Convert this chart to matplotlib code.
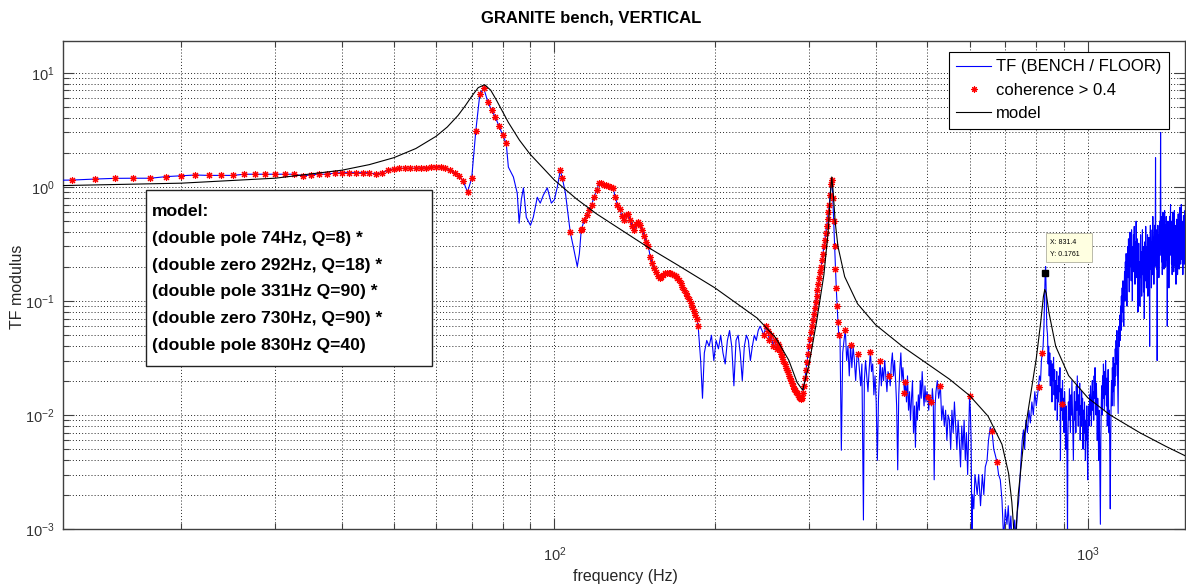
import matplotlib

matplotlib.use("Agg")
import matplotlib.pyplot as plt
from matplotlib.lines import Line2D
from matplotlib.patches import Rectangle
from matplotlib.ticker import LogLocator, LogFormatterMathtext, NullFormatter

plt.rcParams["font.family"] = ["Liberation Sans", "DejaVu Sans"]

# measured transfer function |BENCH / FLOOR|, up to the 831 Hz peak
tf_freq = [
    11.25, 12.5, 13.75, 15, 16.25, 17.5, 18.75, 20, 21.25, 22.5, 23.75, 25, 26.25, 27.5,
    28.75, 30, 31.25, 32.5, 33.75, 35, 36.25, 37.5, 38.75, 40, 41.25, 42.5, 43.75, 45,
    46.25, 47.5, 48.75, 50, 51.25, 52.5, 53.75, 55, 56.25, 57.5, 58.75, 60, 61.25, 62.5,
    63.75, 65, 66.25, 67.5, 68.75, 70, 71.25, 72.5, 73.75, 75, 76.25, 77.5, 78.75, 80, 81.25,
    82.0, 83.8, 85.2, 85.9, 86.7, 87.5, 88.6, 90.2, 91.3, 92.9, 94.1, 95.4, 97.0, 98.7,
    100, 101.3, 102.6, 103.5, 104.9, 107.1, 108.5, 110.4, 111.4, 112.3,
    112.5, 113.75, 115, 116.25, 117.5, 118.75, 120, 121.25, 122.5, 123.75, 125, 126.25,
    127.5, 128.75, 130, 131.25, 132.5, 133.75, 135, 136.25, 137.5, 138.75, 140, 141.25,
    142.5, 143.75, 145, 146.25, 147.5, 148.75, 150, 151.25, 152.5, 153.75, 155, 156.25,
    157.5, 158.75, 160, 161.25, 162.5, 163.75, 165, 166.25, 167.5, 168.75, 170, 171.25,
    172.5, 173.75, 175, 176.25, 177.5, 178.75, 180, 181.25, 182.5, 183.75, 185,
    186, 188, 189.5, 191, 193, 195, 197, 199, 201, 203, 205, 207, 209, 211, 213, 215,
    217, 219, 221, 223, 225, 227, 229, 231, 233, 235, 237, 239, 241, 243, 245, 247, 249,
    251, 253, 255, 257, 259, 261,
    262.5, 263.75, 265, 266.25, 267.5, 268.75, 270, 271.25, 272.5, 273.75, 275, 276.25,
    277.5, 278.75, 280, 281.25, 282.5, 283.75, 285, 286.25, 287.5, 288.75, 290, 291.25,
    292.5, 293.75, 295, 296.25, 297.5, 298.75, 300, 301.25, 302.5, 303.75, 305, 306.25,
    307.5, 308.75, 310, 311.25, 312.5, 313.75, 315, 316.25, 317.5, 318.75, 320, 321.25,
    322.5, 323.75, 325, 326.25, 327.5, 328.75, 330, 331.25, 332.5, 333.75, 335, 336.25,
    337.5, 338.75, 340, 341.25,
    343, 345, 347, 349, 351, 353, 355, 357, 359, 361, 363, 365, 367, 369, 371, 373, 375,
    377, 379.5, 381, 383, 385, 387, 389, 391, 393, 395, 397, 399, 401, 403, 405, 408, 410,
    412, 414, 416, 418, 420, 422, 424, 426, 428, 430, 432, 434, 436, 438, 440, 442, 444,
    446, 448, 450, 453, 455, 457, 459, 461, 463, 465, 467, 469, 471, 473, 475, 477, 479,
    481, 483, 485, 487, 489, 491, 493, 495, 497, 499, 501, 503, 505, 507, 509, 511, 513,
    515, 517, 519, 522, 525, 529, 532, 535, 538, 541, 544, 547, 550, 553, 556, 559, 562,
    565, 568, 571, 574, 577, 580, 583, 586, 589, 592, 595, 598, 600, 602, 604, 606, 608,
    611, 614, 617, 620, 624, 629, 634, 638, 642, 647, 651, 656, 661, 666, 670, 675, 680,
    685, 690, 695, 700, 705, 709, 713, 717, 721, 725, 729, 733, 737, 741, 745, 749, 753,
    757, 761, 765, 770, 775, 780, 785, 790, 795, 800, 808, 811, 815, 818, 821, 824, 827,
    829, 831.4, 833, 835, 837,
]
tf_mod = [
    1.14, 1.147, 1.17, 1.187, 1.19, 1.19, 1.23, 1.25, 1.27, 1.26, 1.26, 1.26, 1.29, 1.29,
    1.29, 1.29, 1.29, 1.29, 1.25, 1.27, 1.29, 1.29, 1.32, 1.33, 1.33, 1.33, 1.33, 1.33,
    1.29, 1.33, 1.40, 1.44, 1.45, 1.46, 1.45, 1.46, 1.46, 1.47, 1.48, 1.50, 1.50, 1.47,
    1.40, 1.33, 1.25, 1.12, 0.90, 1.19, 3.1, 6.5, 7.3, 5.6, 4.7, 4.1, 3.4, 2.85, 2.4,
    1.49, 1.22, 0.88, 0.48, 0.77, 0.98, 0.54, 0.46, 0.54, 0.81, 0.72, 0.85, 0.98, 0.72,
    0.77, 1.0, 1.4, 1.19, 0.88, 0.40, 0.30, 0.20, 0.26, 0.42,
    0.43, 0.51, 0.57, 0.63, 0.70, 0.82, 0.94, 1.07, 1.08, 1.04, 1.03, 1.02,
    1.0, 0.98, 0.82, 0.70, 0.64, 0.56, 0.51, 0.57, 0.58, 0.51, 0.45, 0.42,
    0.47, 0.49, 0.46, 0.42, 0.37, 0.33, 0.30, 0.245, 0.215, 0.195, 0.18, 0.165,
    0.158, 0.162, 0.17, 0.175, 0.176, 0.176, 0.175, 0.172, 0.168, 0.165, 0.16, 0.152,
    0.143, 0.133, 0.125, 0.117, 0.11, 0.103, 0.095, 0.088, 0.082, 0.075, 0.07,
    0.06, 0.03, 0.014, 0.035, 0.045, 0.04, 0.05, 0.03, 0.045, 0.038, 0.05, 0.035, 0.028,
    0.045, 0.055, 0.04, 0.018, 0.045, 0.05, 0.035, 0.02, 0.04, 0.05, 0.045, 0.03, 0.04,
    0.05, 0.045, 0.055, 0.06, 0.055, 0.05, 0.06, 0.055, 0.045, 0.05, 0.04, 0.045, 0.038,
    0.042, 0.04, 0.037, 0.034, 0.032, 0.03, 0.028, 0.026, 0.025, 0.024, 0.022, 0.021,
    0.02, 0.019, 0.018, 0.017, 0.0165, 0.016, 0.0155, 0.015, 0.0145, 0.014, 0.0138, 0.014,
    0.0155, 0.018, 0.021, 0.025, 0.029, 0.034, 0.04, 0.046, 0.053, 0.06, 0.068, 0.077,
    0.087, 0.098, 0.11, 0.125, 0.14, 0.158, 0.18, 0.2, 0.23, 0.26, 0.3, 0.34,
    0.39, 0.45, 0.52, 0.6, 0.7, 0.85, 1.05, 1.15, 0.8, 0.5, 0.3, 0.19,
    0.13, 0.09, 0.065, 0.05,
    0.05, 0.0049, 0.035, 0.045, 0.056, 0.03, 0.04, 0.022, 0.041, 0.026, 0.04, 0.03, 0.02,
    0.032, 0.034, 0.025, 0.018, 0.028, 0.0012, 0.02, 0.03, 0.022, 0.016, 0.025, 0.036,
    0.024, 0.028, 0.015, 0.022, 0.013, 0.004, 0.014, 0.03, 0.018, 0.026, 0.02, 0.03,
    0.022, 0.016, 0.024, 0.022, 0.018, 0.028, 0.035, 0.022, 0.03, 0.02, 0.012, 0.0033,
    0.015, 0.025, 0.035, 0.02, 0.026, 0.0155, 0.0195, 0.013, 0.022, 0.011, 0.016, 0.009,
    0.014, 0.02, 0.007, 0.012, 0.0052, 0.013, 0.009, 0.015, 0.011, 0.02, 0.014, 0.024,
    0.016, 0.012, 0.018, 0.013, 0.016, 0.0145, 0.011, 0.015, 0.013, 0.012, 0.017, 0.013,
    0.0027, 0.012, 0.016, 0.02, 0.014, 0.018, 0.009, 0.012, 0.008, 0.011, 0.006, 0.01,
    0.009, 0.005, 0.011, 0.007, 0.013, 0.008, 0.005, 0.009, 0.006, 0.0035, 0.008, 0.005,
    0.009, 0.004, 0.007, 0.003, 0.008, 0.0146, 0.011, 0.006, 0.0009, 0.002, 0.0015, 0.003,
    0.0025, 0.002, 0.003, 0.0016, 0.003, 0.002, 0.0035, 0.004, 0.006, 0.0078, 0.0072,
    0.005, 0.0045, 0.0039, 0.003, 0.0027, 0.0018, 0.0008, 0.0015, 0.0011, 0.0016, 0.0009,
    0.0013, 0.0007, 0.0009, 0.0012, 0.0008, 0.0014, 0.0017, 0.0025, 0.004, 0.006, 0.0074,
    0.005, 0.009, 0.007, 0.011, 0.0085, 0.013, 0.01, 0.016, 0.012, 0.0177, 0.022, 0.02,
    0.03, 0.035, 0.04, 0.06, 0.1, 0.1761, 0.2, 0.12, 0.06,
]

# measured transfer function above the 831 Hz peak (noisy part)
tf_hf_freq = [
    840, 842, 844, 846, 848, 850, 852, 854, 856, 858,
    860, 862, 864, 866, 868, 870, 872, 874, 876, 878,
    880, 882, 884, 886, 888, 890, 892, 894, 896, 898,
    900, 902, 904, 906, 908, 910, 912, 914, 915.5, 917,
    919, 921, 923, 925, 927, 929, 931, 933, 935, 937,
    939, 941, 943, 945, 947, 949, 951, 953, 955, 957,
    959, 961, 963, 965, 967, 969, 971, 973, 975, 977,
    979, 981, 983, 985, 987, 989, 991, 993, 995, 997,
    999, 1001, 1003, 1005, 1007, 1009, 1011, 1013, 1015, 1017,
    1019, 1021, 1023, 1025, 1027, 1029, 1031, 1033, 1035, 1037,
    1039, 1041, 1043, 1045, 1047, 1049, 1051, 1053, 1055, 1057,
    1059, 1061, 1063, 1065, 1067, 1069, 1071, 1073, 1075, 1077,
    1079, 1081, 1083, 1085, 1087, 1089, 1091, 1093, 1095, 1097,
    1099, 1101, 1103, 1105, 1107, 1109, 1111, 1113, 1115, 1117,
    1119, 1121, 1123, 1125, 1127, 1129, 1131, 1133, 1135, 1137,
    1139, 1141, 1143, 1145, 1147, 1149, 1151, 1153, 1155, 1157,
    1159, 1161, 1163, 1165, 1167, 1169, 1171, 1173, 1175, 1177,
    1179, 1181, 1183, 1185, 1187, 1189, 1191, 1193, 1195, 1197,
    1199, 1201, 1203, 1205, 1207, 1209, 1211, 1213, 1215, 1217,
    1219, 1221, 1223, 1225, 1227, 1229, 1231, 1233, 1235, 1237,
    1239, 1241, 1243, 1245, 1247, 1249, 1251, 1253, 1255, 1257,
    1259, 1261, 1263, 1265, 1267, 1269, 1271, 1273, 1275, 1277,
    1279, 1281, 1283, 1285, 1287, 1289, 1291, 1293, 1295, 1297,
    1299, 1301, 1303, 1305, 1307, 1309, 1311, 1313, 1315, 1317,
    1319, 1321, 1323, 1325, 1327, 1329, 1331, 1333, 1335, 1337,
    1338.5, 1340, 1342, 1344, 1346, 1348, 1350, 1352, 1354, 1356,
    1358, 1360, 1362, 1364, 1366, 1368, 1370, 1372, 1374, 1376,
    1378, 1380, 1382, 1384, 1386, 1388, 1390, 1392, 1394, 1396,
    1398, 1400, 1402, 1404, 1406, 1408, 1410, 1412, 1414, 1416,
    1418, 1420, 1422, 1424, 1426, 1428, 1430, 1432, 1434, 1436,
    1438, 1440, 1442, 1444, 1446, 1448, 1450, 1452, 1454, 1456,
    1458, 1460, 1462, 1464, 1466, 1468, 1470, 1472, 1474, 1476,
    1478, 1480, 1482, 1484, 1486, 1488, 1490, 1492, 1494, 1496,
    1498, 1500, 1502, 1504, 1506, 1508, 1510, 1512, 1514, 1516,
    1518, 1520, 1522, 1525,
]
tf_hf_mod = [
    0.05, 0.028, 0.04, 0.022, 0.035, 0.018, 0.03, 0.024, 0.013, 0.028,
    0.02, 0.032, 0.015, 0.025, 0.011, 0.02, 0.014, 0.024, 0.009, 0.018,
    0.013, 0.022, 0.016, 0.026, 0.004, 0.017, 0.011, 0.0124, 0.02, 0.009,
    0.014, 0.007, 0.016, 0.011, 0.005, 0.012, 0.008, 0.003, 0.0009, 0.006,
    0.013, 0.009, 0.017, 0.011, 0.007, 0.015, 0.01, 0.02, 0.012, 0.007,
    0.004, 0.01, 0.016, 0.009, 0.013, 0.007, 0.018, 0.011, 0.022, 0.013,
    0.008, 0.015, 0.01, 0.019, 0.006, 0.012, 0.008, 0.016, 0.009, 0.014,
    0.005, 0.011, 0.007, 0.013, 0.008, 0.004, 0.009, 0.006, 0.012, 0.005,
    0.0027, 0.007, 0.012, 0.008, 0.015, 0.01, 0.018, 0.012, 0.008, 0.014,
    0.02, 0.011, 0.016, 0.009, 0.022, 0.014, 0.026, 0.015, 0.01, 0.019,
    0.012, 0.006, 0.014, 0.009, 0.004, 0.011, 0.007, 0.003, 0.0011, 0.006,
    0.012, 0.018, 0.01, 0.022, 0.014, 0.028, 0.017, 0.011, 0.024, 0.015,
    0.03, 0.018, 0.012, 0.021, 0.008, 0.016, 0.025, 0.012, 0.007, 0.011,
    0.004, 0.0015, 0.006, 0.013, 0.02, 0.012, 0.026, 0.016, 0.032, 0.02,
    0.012, 0.028, 0.018, 0.038, 0.022, 0.045, 0.028, 0.055, 0.032, 0.02,
    0.0103, 0.03, 0.06, 0.04, 0.075, 0.045, 0.09, 0.055, 0.11, 0.065,
    0.13, 0.08, 0.15, 0.09, 0.06, 0.12, 0.18, 0.1, 0.22, 0.13,
    0.26, 0.15, 0.09, 0.2, 0.3, 0.16, 0.35, 0.19, 0.12, 0.28,
    0.4, 0.2, 0.33, 0.15, 0.42, 0.24, 0.1, 0.3, 0.18, 0.38,
    0.22, 0.45, 0.25, 0.14, 0.33, 0.2, 0.5, 0.26, 0.16, 0.35,
    0.22, 0.08, 0.2, 0.32, 0.13, 0.22, 0.09, 0.19, 0.38, 0.16,
    0.27, 0.11, 0.21, 0.42, 0.17, 0.3, 0.12, 0.24, 0.07, 0.19,
    0.33, 0.15, 0.45, 0.21, 0.13, 0.3, 0.18, 0.38, 0.11, 0.25,
    0.16, 0.36, 0.2, 0.04, 0.27, 0.46, 0.19, 0.33, 0.13, 0.26,
    0.42, 0.17, 0.55, 0.23, 0.36, 0.14, 0.29, 0.46, 0.2, 0.38,
    1.8, 0.25, 0.42, 0.19, 0.34, 0.03, 0.27, 0.46, 0.21, 0.38,
    0.16, 0.31, 0.5, 0.25, 0.42, 3.0, 0.33, 0.55, 0.22, 0.42,
    0.17, 0.33, 0.6, 0.25, 0.45, 0.19, 0.37, 0.62, 0.27, 0.46,
    0.2, 0.36, 0.55, 0.23, 0.42, 0.06, 0.31, 0.5, 0.21, 0.38,
    0.13, 0.29, 0.55, 0.25, 0.46, 0.7, 0.31, 0.5, 0.21, 0.42,
    0.17, 0.34, 0.6, 0.25, 0.45, 0.18, 0.36, 0.62, 0.29, 0.46,
    0.2, 0.38, 0.14, 0.31, 0.52, 0.23, 0.42, 0.17, 0.34, 0.58,
    0.26, 0.46, 0.19, 0.38, 0.66, 0.29, 0.48, 0.21, 0.4, 0.7,
    0.31, 0.5, 0.23, 0.42, 0.17, 0.35, 0.56, 0.25, 0.45, 0.21,
    0.38, 0.62, 0.29, 0.46,
]
assert len(tf_freq) == len(tf_mod)
assert len(tf_hf_freq) == len(tf_hf_mod)

# frequency bands where coherence > 0.4 (red stars on the TF points)
coh_bands = [
    (12, 81.5), (102, 104), (107, 107.2), (112, 186), (247, 342), (350, 352),
    (358, 360), (370, 372), (390, 392), (407, 409), (423, 425), (452, 456),
    (500, 502), (506, 508), (528, 530), (599, 601), (660, 662), (674, 676),
    (807, 809), (820, 822), (893, 895),
]

# model: poles / zeros listed in the text box
model_freq = [
    12, 20, 30, 40, 45, 50, 55, 60, 63, 66, 68, 70, 72, 74, 76, 78, 82, 86, 90, 100,
    110, 120, 150, 170, 200, 240, 260, 275, 285, 292, 300, 310, 320, 326, 329, 331, 333,
    336, 340, 350, 370, 400, 450, 500, 550, 600, 650, 690, 710, 720, 730, 740, 760, 780,
    800, 815, 825, 830, 835, 845, 870, 920, 1000, 1100, 1250, 1400, 1550,
]
model_mod = [
    1.026, 1.077, 1.191, 1.40, 1.566, 1.80, 2.167, 2.77, 3.347, 4.23, 5.10, 6.22, 7.41,
    7.86, 7.03, 5.69, 3.67, 2.57, 1.94, 1.147, 0.784, 0.579, 0.294, 0.207, 0.130, 0.0706,
    0.0474, 0.0302, 0.0193, 0.0165, 0.0276, 0.0654, 0.170, 0.409, 0.853, 1.22, 0.913,
    0.489, 0.300, 0.163, 0.0943, 0.0617, 0.0396, 0.0281, 0.0206, 0.0148, 0.00974,
    0.00552, 0.00307, 0.00172, 0.00069, 0.00198, 0.00672, 0.0146, 0.0312, 0.0634, 0.109,
    0.126, 0.117, 0.079, 0.040, 0.0221, 0.0141, 0.0100, 0.0070, 0.0053, 0.0042,
]

model_lines = [
    "model:",
    "(double pole 74Hz, Q=8) *",
    "(double zero 292Hz, Q=18) *",
    "(double pole 331Hz Q=90) *",
    "(double zero 730Hz, Q=90) *",
    "(double pole 830Hz Q=40)",
]
tip_x, tip_y = 831.4, 0.1761

W, H = 1186, 587


def fx(px):
    return px / W


def fy(py):
    return 1 - py / H


fig = plt.figure(figsize=(W / 100, H / 100), dpi=100)
ax = fig.add_axes([fx(63), fy(529), fx(1185) - fx(63), fy(41) - fy(529)])
ax.set_xscale("log")
ax.set_yscale("log")

all_f = tf_freq + tf_hf_freq
all_v = tf_mod + tf_hf_mod
coh = [(f, v) for f, v in zip(all_f, all_v) if any(lo <= f <= hi for lo, hi in coh_bands)]
coh_f = [c[0] for c in coh]
coh_v = [c[1] for c in coh]

ax.plot(all_f, all_v, color="#0000ff", lw=0.8, zorder=3)
ax.plot(coh_f, coh_v, ls="none", marker=(8, 2, 0), ms=5, mew=0.8, color="#ff0000", zorder=4)
ax.plot(model_freq, model_mod, color="black", lw=0.8, zorder=5)
ax.plot([tip_x], [tip_y], marker="s", ms=4.2, color="black", zorder=8)

ax.set_xlim(12, 1520)
ax.set_ylim(1e-3, 19)

for axis in (ax.xaxis, ax.yaxis):
    axis.set_major_locator(LogLocator(base=10))
    axis.set_minor_locator(LogLocator(base=10, subs=range(2, 10)))
    axis.set_major_formatter(LogFormatterMathtext())
    axis.set_minor_formatter(NullFormatter())

ax.tick_params(which="both", direction="in", top=True, right=True, color="#404040",
               labelcolor="#333333", labelsize=10.5)
ax.tick_params(which="major", length=8, width=0.8)
ax.tick_params(which="minor", length=4, width=0.8)
ax.tick_params(axis="x", pad=12)
ax.tick_params(axis="y", pad=6)
for s in ax.spines.values():
    s.set_color("#404040")
    s.set_linewidth(1.0)

ax.grid(True, which="both", ls=(0, (1, 2.2)), color="#262626", lw=0.7)
ax.set_axisbelow(True)

handles = [
    Line2D([], [], color="#0000ff", lw=0.8),
    Line2D([], [], ls="none", marker=(8, 2, 0), ms=4.5, mew=0.8, color="#ff0000"),
    Line2D([], [], color="black", lw=0.8),
]
leg = ax.legend(handles, ["TF (BENCH / FLOOR)", "coherence > 0.4", "model"],
                loc="upper right", bbox_to_anchor=(fx(1169), fy(52)),
                bbox_transform=fig.transFigure, fontsize=12, frameon=True,
                fancybox=False, framealpha=1, edgecolor="black", borderpad=0.45,
                labelspacing=0.5, handlelength=2.1, handletextpad=0.3, borderaxespad=0)
leg.get_frame().set_linewidth(0.8)
leg.set_zorder(10)

fig.add_artist(Rectangle((fx(146), fy(366)), fx(432) - fx(146), fy(190) - fy(366),
                         transform=fig.transFigure, facecolor="white",
                         edgecolor="#222222", lw=1.0, zorder=6))
for i, line in enumerate(model_lines):
    fig.text(fx(152), fy(211.7 + i * 26.7), line, ha="left", va="center",
             fontsize=12.6, fontweight="bold", color="black", zorder=7)

fig.add_artist(Rectangle((fx(1046), fy(262)), fx(1092) - fx(1046), fy(233) - fy(262),
                         transform=fig.transFigure, facecolor="#ffffe1",
                         edgecolor="#b0b0a0", lw=0.6, zorder=6))
fig.text(fx(1050), fy(242), f"X: {tip_x}", fontsize=5, ha="left", va="center", zorder=7)
fig.text(fx(1050), fy(254), f"Y: {tip_y}", fontsize=5, ha="left", va="center", zorder=7)

fig.text(fx(591), fy(18), "GRANITE bench, VERTICAL", ha="center", va="center",
         fontsize=12, fontweight="bold")
fig.text(fx(625), fy(577), "frequency (Hz)", ha="center", va="center",
         fontsize=11.5, color="#262626")
fig.text(fx(18), fy(287), "TF modulus", ha="center", va="center", rotation=90,
         fontsize=11.5, color="#262626")

fig.savefig("out.png", dpi=100)
